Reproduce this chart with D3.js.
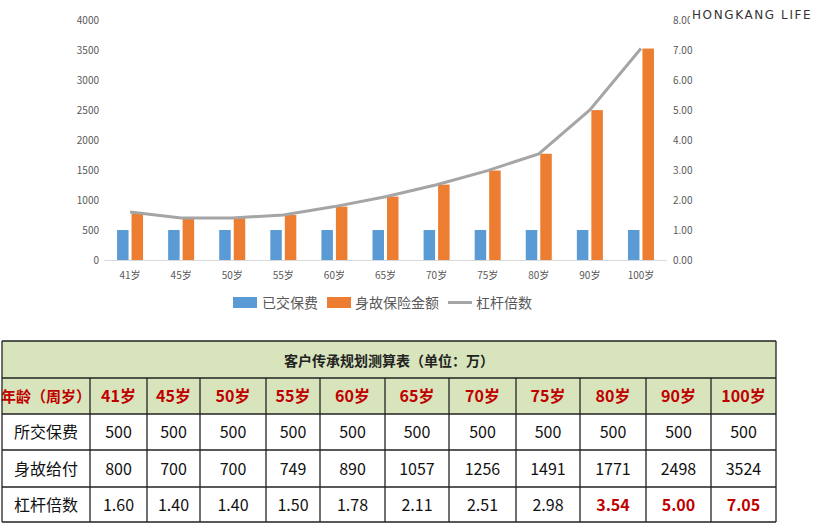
<!DOCTYPE html>
<html>
<head>
<meta charset="utf-8" />
<script src="https://cdn.jsdelivr.net/npm/d3@7/dist/d3.min.js"></script>
<style>
body { margin: 0; background: #fff; font-family: "Noto Sans CJK SC", "Noto Sans", sans-serif; }
</style>
</head>
<body>
<script>
var ages = ["41岁", "45岁", "50岁", "55岁", "60岁", "65岁", "70岁", "75岁", "80岁", "90岁", "100岁"];
var premium = [500, 500, 500, 500, 500, 500, 500, 500, 500, 500, 500];
var benefit = [800, 700, 700, 749, 890, 1057, 1256, 1491, 1771, 2498, 3524];
var leverage = [1.60, 1.40, 1.40, 1.50, 1.78, 2.11, 2.51, 2.98, 3.54, 5.00, 7.05];
var leftTicks = [0, 500, 1000, 1500, 2000, 2500, 3000, 3500, 4000];
var rightTicks = [0, 1, 2, 3, 4, 5, 6, 7, 8];
var redFrom = 8;

var svg = d3.select("body").append("svg").attr("width", 826).attr("height", 527);

var x = d3.scaleBand().domain(ages).range([104.5, 666.5]);
var yL = d3.scaleLinear().domain([0, 4000]).range([260, 20]);
var yR = d3.scaleLinear().domain([0, 8]).range([260, 20]);

svg.append("line").attr("x1", 104).attr("x2", 667).attr("y1", 260.5).attr("y2", 260.5)
    .attr("stroke", "#d9d9d9");

svg.selectAll("text.yl").data(leftTicks).enter().append("text")
    .attr("x", 99).attr("y", d => yL(d) + 4).attr("text-anchor", "end")
    .attr("font-size", 10).attr("fill", "#595959").text(d => d);
svg.selectAll("text.yr").data(rightTicks).enter().append("text")
    .attr("x", 673).attr("y", d => yR(d) + 4)
    .attr("font-size", 10).attr("fill", "#595959").text(d => d.toFixed(2));
svg.selectAll("text.xl").data(ages).enter().append("text")
    .attr("x", d => x(d) + x.bandwidth() / 2).attr("y", 279).attr("text-anchor", "middle")
    .attr("font-size", 10).attr("fill", "#595959").text(d => d);

var bw = 11.5;
svg.selectAll("rect.p").data(premium).enter().append("rect")
    .attr("x", (d, i) => x(ages[i]) + x.bandwidth() / 2 - bw - 1.5).attr("width", bw)
    .attr("y", d => yL(d)).attr("height", d => 260 - yL(d)).attr("fill", "#5b9bd5");
svg.selectAll("rect.b").data(benefit).enter().append("rect")
    .attr("x", (d, i) => x(ages[i]) + x.bandwidth() / 2 + 1.5).attr("width", bw)
    .attr("y", d => yL(d)).attr("height", d => 260 - yL(d)).attr("fill", "#ed7d31");

var line = d3.line().x((d, i) => x(ages[i]) + x.bandwidth() / 2).y(d => yR(d));
svg.append("path").datum(leverage).attr("d", line).attr("fill", "none")
    .attr("stroke", "#a5a5a5").attr("stroke-width", 3);

// legend
var lg = svg.append("g").attr("font-size", 14).attr("fill", "#595959");
lg.append("rect").attr("x", 233).attr("y", 297).attr("width", 24).attr("height", 11).attr("fill", "#5b9bd5");
lg.append("text").attr("x", 262).attr("y", 308).text("已交保费");
lg.append("rect").attr("x", 327).attr("y", 297).attr("width", 24).attr("height", 11).attr("fill", "#ed7d31");
lg.append("text").attr("x", 355).attr("y", 308).text("身故保险金额");
lg.append("line").attr("x1", 448).attr("x2", 472).attr("y1", 302.5).attr("y2", 302.5)
    .attr("stroke", "#a5a5a5").attr("stroke-width", 3);
lg.append("text").attr("x", 476).attr("y", 308).text("杠杆倍数");

svg.append("rect").attr("x", 690).attr("y", 0).attr("width", 136).attr("height", 24).attr("fill", "#fff");
svg.append("text").attr("x", 692).attr("y", 19).attr("font-size", 12).attr("letter-spacing", 1.6)
    .attr("font-family", "DejaVu Sans").attr("fill", "#333").text("HONGKANG LIFE");

// table
var cols = [2, 90, 147, 200, 266, 320, 385, 449, 516, 580, 646, 711, 776];
var rowsY = [341, 378, 414, 450, 487, 522];
var t = svg.append("g");
t.append("rect").attr("x", 2).attr("y", 341).attr("width", 774).attr("height", 73).attr("fill", "#d8e4bc");
t.append("text").attr("x", 389).attr("y", 366).attr("text-anchor", "middle").attr("font-size", 14)
    .attr("font-weight", "bold").attr("fill", "#222").text("客户传承规划测算表（单位：万）");

var rowsData = [
    { label: "年龄（周岁）", vals: ages, head: true },
    { label: "所交保费", vals: premium },
    { label: "身故给付", vals: benefit },
    { label: "杠杆倍数", vals: leverage.map(d => d.toFixed(2)), red: true }
];
rowsData.forEach(function (r, ri) {
    var yc = (rowsY[ri + 1] + rowsY[ri + 2]) / 2 + 6;
    t.append("text").attr("x", (cols[0] + cols[1]) / 2).attr("y", yc).attr("text-anchor", "middle")
        .attr("font-size", r.head ? 15 : 16).attr("font-weight", r.head ? "bold" : "normal")
        .attr("fill", r.head ? "#c00000" : "#111").text(r.label);
    t.selectAll(null).data(r.vals).enter().append("text")
        .attr("x", (d, i) => (cols[i + 1] + cols[i + 2]) / 2).attr("y", yc).attr("text-anchor", "middle")
        .attr("font-size", 16)
        .attr("font-weight", (d, i) => r.head || (r.red && i >= redFrom) ? "bold" : "normal")
        .attr("fill", (d, i) => r.head || (r.red && i >= redFrom) ? "#c00000" : "#111")
        .text(d => d);
});

var g = t.append("g").attr("stroke", "#222").attr("stroke-width", 1.3);
rowsY.forEach(yy => g.append("line").attr("x1", 2).attr("x2", 776).attr("y1", yy).attr("y2", yy));
g.append("line").attr("x1", 2).attr("x2", 2).attr("y1", 341).attr("y2", 522);
g.append("line").attr("x1", 776).attr("x2", 776).attr("y1", 341).attr("y2", 522);
cols.slice(1, -1).forEach(cx => g.append("line").attr("x1", cx).attr("x2", cx).attr("y1", 378).attr("y2", 522));
</script>
</body>
</html>
